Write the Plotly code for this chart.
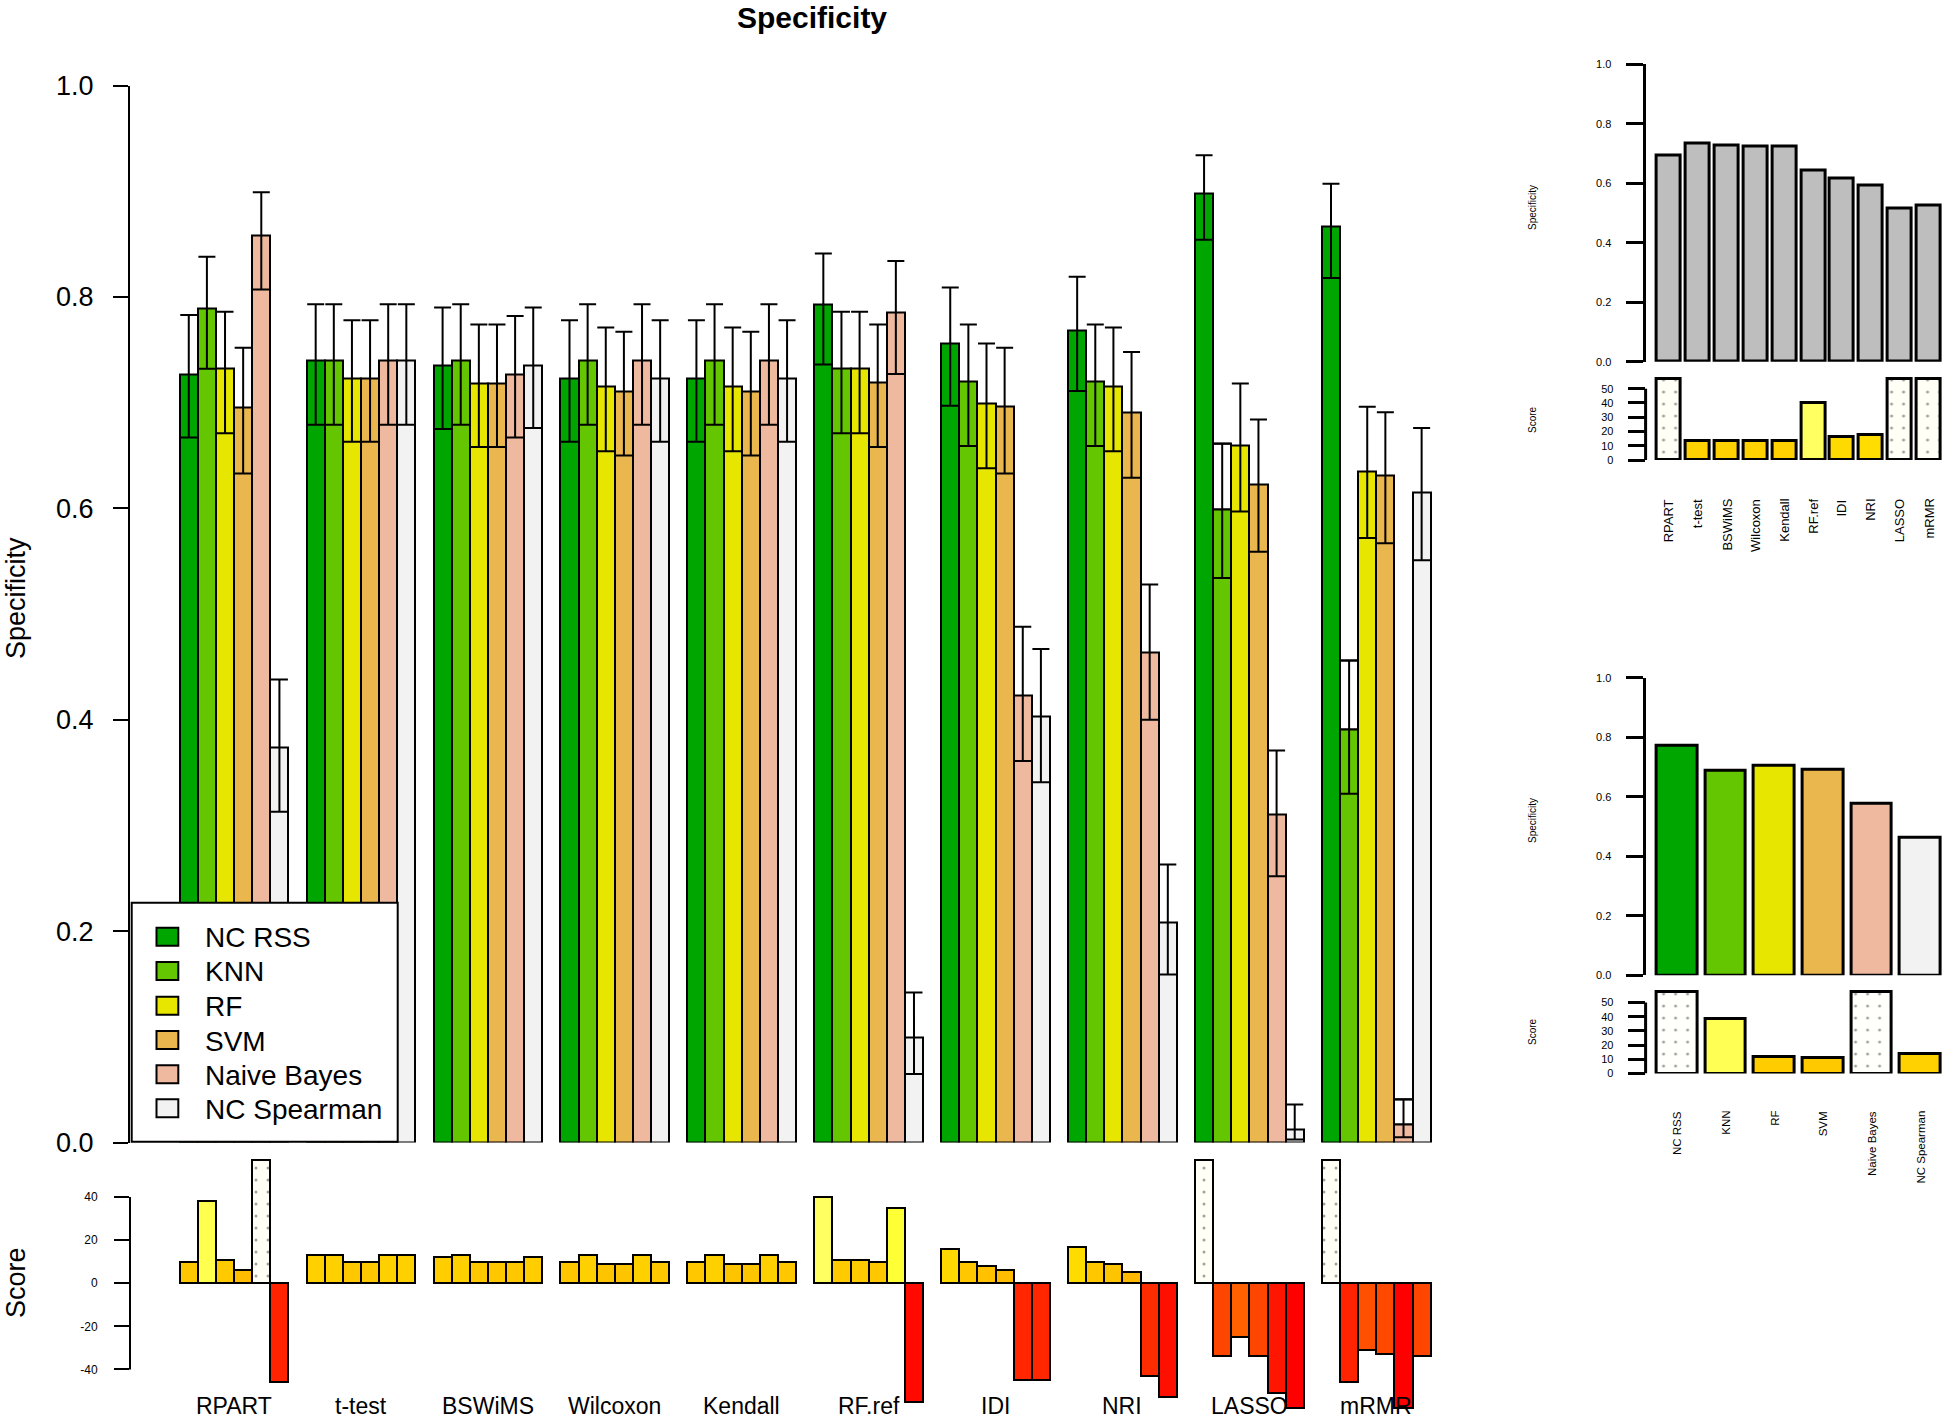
import plotly.graph_objects as go

W, H = 1943, 1420
FONT = "Liberation Sans, Arial, sans-serif"

# ---------------- data ----------------
groups = ["RPART", "t-test", "BSWiMS", "Wilcoxon", "Kendall", "RF.ref", "IDI", "NRI", "LASSO", "mRMR"]
classifiers = ["NC RSS", "KNN", "RF", "SVM", "Naive Bayes", "NC Spearman"]

ncrss_mean = [0.727, 0.740, 0.735, 0.723, 0.723, 0.793, 0.756, 0.768, 0.898, 0.867]
ncrss_low = [0.667, 0.679, 0.675, 0.663, 0.663, 0.736, 0.697, 0.711, 0.854, 0.818]
ncrss_up = [0.783, 0.793, 0.790, 0.778, 0.778, 0.841, 0.809, 0.819, 0.934, 0.907]

knn_mean = [0.789, 0.740, 0.740, 0.740, 0.740, 0.732, 0.720, 0.720, 0.599, 0.391]
knn_low = [0.732, 0.679, 0.679, 0.679, 0.679, 0.671, 0.659, 0.659, 0.534, 0.330]
knn_up = [0.838, 0.793, 0.793, 0.793, 0.793, 0.786, 0.774, 0.774, 0.661, 0.456]

rf_mean = [0.732, 0.723, 0.718, 0.715, 0.715, 0.732, 0.699, 0.715, 0.659, 0.635]
rf_low = [0.671, 0.663, 0.658, 0.654, 0.654, 0.671, 0.638, 0.654, 0.597, 0.572]
rf_up = [0.786, 0.778, 0.774, 0.771, 0.771, 0.786, 0.756, 0.771, 0.718, 0.696]

svm_mean = [0.695, 0.723, 0.718, 0.711, 0.711, 0.719, 0.696, 0.691, 0.623, 0.631]
svm_low = [0.633, 0.663, 0.658, 0.650, 0.650, 0.658, 0.633, 0.629, 0.559, 0.567]
svm_up = [0.752, 0.778, 0.774, 0.767, 0.767, 0.774, 0.752, 0.748, 0.684, 0.691]

nb_mean = [0.858, 0.740, 0.727, 0.740, 0.740, 0.785, 0.423, 0.464, 0.310, 0.017]
nb_low = [0.807, 0.679, 0.667, 0.679, 0.679, 0.727, 0.361, 0.400, 0.252, 0.005]
nb_up = [0.899, 0.793, 0.782, 0.793, 0.793, 0.834, 0.488, 0.528, 0.371, 0.041]

ncs_mean = [0.374, 0.740, 0.735, 0.723, 0.723, 0.099, 0.403, 0.208, 0.012, 0.615]
ncs_low = [0.313, 0.679, 0.676, 0.663, 0.663, 0.065, 0.341, 0.159, 0.003, 0.551]
ncs_up = [0.438, 0.793, 0.790, 0.778, 0.778, 0.142, 0.467, 0.263, 0.036, 0.676]

# bars whose mean-to-upper part is drawn as an open box
hollow_classifier = ["KNN", "KNN", "Naive Bayes"]
hollow_group = ["LASSO", "mRMR", "mRMR"]

score_ncrss = [10, 13, 12, 10, 10, 40, 16, 17, 57, 57]
score_knn = [38, 13, 13, 13, 13, 11, 10, 10, -34, -46]
score_rf = [11, 10, 10, 9, 9, 11, 8, 9, -25, -31]
score_svm = [6, 10, 10, 9, 9, 10, 6, 5, -34, -33]
score_nb = [57, 13, 10, 13, 13, 35, -45, -43, -51, -58]
score_ncs = [-46, 13, 12, 10, 10, -55, -45, -53, -58, -34]

method_spec = [0.694, 0.733, 0.728, 0.723, 0.723, 0.643, 0.615, 0.592, 0.515, 0.525]
method_score = [57, 13.3, 13.3, 13.3, 13.3, 40.2, 16.4, 17.3, 57, 57]

classifier_spec = [0.772, 0.689, 0.703, 0.690, 0.577, 0.463]
classifier_score = [57.6, 38.6, 11.6, 10.6, 57.6, 13.4]

main_yticks = [0.0, 0.2, 0.4, 0.6, 0.8, 1.0]
score_yticks = [-40, -20, 0, 20, 40]
small_yticks = [0.0, 0.2, 0.4, 0.6, 0.8, 1.0]
small_score_ticks = [0, 10, 20, 30, 40, 50]

# ---------------- styles ----------------
colors = ["#00A600", "#63C600", "#E6E600", "#EAB64E", "#EEB99F", "#F2F2F2"]
means = [ncrss_mean, knn_mean, rf_mean, svm_mean, nb_mean, ncs_mean]
lows = [ncrss_low, knn_low, rf_low, svm_low, nb_low, ncs_low]
ups = [ncrss_up, knn_up, rf_up, svm_up, nb_up, ncs_up]
scores = [score_ncrss, score_knn, score_rf, score_svm, score_nb, score_ncs]


def heat(v):
    t = max(0.0, min(1.0, (v + 58) / 116.0))
    if t <= 0.75:
        g = int(round(255 * t / 0.75))
        return "#FF%02X00" % g
    b = int(round(255 * (t - 0.75) / 0.25))
    return "#FFFF%02X" % b


def pat(vals):
    return dict(shape=["." if v > 50 else "" for v in vals], fgcolor="#F8F000",
                fgopacity=0.5, size=12, solidity=0.05)


def px(X):
    return X / W


def py(Y):
    return 1 - Y / H


def lin(p, pa, va, pb, vb):
    return va + (p - pa) * (vb - va) / (pb - pa)


def dom_y(top, bottom):
    return [1 - bottom / H, 1 - top / H]


fig = go.Figure()


def xpos(k):
    return [1 + 7 * g + k + 0.5 for g in range(len(groups))]


# hollow boxes first (under the whiskers)
hx, hbase, hy = [], [], []
for cname, gname in zip(hollow_classifier, hollow_group):
    k = classifiers.index(cname)
    g = groups.index(gname)
    hx.append(1 + 7 * g + k + 0.5)
    hbase.append(means[k][g])
    hy.append(ups[k][g] - means[k][g])
fig.add_trace(go.Bar(x=hx, y=hy, base=hbase, width=1, xaxis="x", yaxis="y",
                     marker=dict(color="white", line=dict(color="black", width=2)),
                     showlegend=False, hoverinfo="skip"))

for k, cname in enumerate(classifiers):
    m, lo, up = means[k], lows[k], ups[k]
    fig.add_trace(go.Bar(
        x=xpos(k), y=m, width=1, name=cname, xaxis="x", yaxis="y",
        marker=dict(color=colors[k], line=dict(color="black", width=2)),
        error_y=dict(type="data", symmetric=False,
                     array=[u - a for u, a in zip(up, m)],
                     arrayminus=[a - l for a, l in zip(m, lo)],
                     color="black", thickness=2, width=8.5),
        showlegend=False))

for k, cname in enumerate(classifiers):
    s = scores[k]
    fig.add_trace(go.Bar(
        x=xpos(k), y=s, width=1, name=cname, xaxis="x2", yaxis="y2",
        marker=dict(color=[heat(v) for v in s], line=dict(color="black", width=2),
                    pattern=pat(s)),
        showlegend=False))

# top-right panels
tr_x = [0.7 + 1.2 * i for i in range(len(groups))]
fig.add_trace(go.Bar(x=tr_x, y=method_spec, width=1, xaxis="x3", yaxis="y3",
                     marker=dict(color="#BEBEBE", line=dict(color="black", width=3)),
                     showlegend=False))
fig.add_trace(go.Bar(x=tr_x, y=method_score, width=1, xaxis="x4", yaxis="y4",
                     marker=dict(color=[heat(v) for v in method_score],
                                 line=dict(color="black", width=3), pattern=pat(method_score)),
                     showlegend=False))

# bottom-right panels
br_x = [0.7 + 1.2 * i for i in range(len(classifiers))]
fig.add_trace(go.Bar(x=br_x, y=classifier_spec, width=1, xaxis="x5", yaxis="y5",
                     marker=dict(color=colors, line=dict(color="black", width=3)),
                     showlegend=False))
fig.add_trace(go.Bar(x=br_x, y=classifier_score, width=1, xaxis="x6", yaxis="y6",
                     marker=dict(color=[heat(v) for v in classifier_score],
                                 line=dict(color="black", width=3), pattern=pat(classifier_score)),
                     showlegend=False))

# ---------------- axes ----------------
main_xr = [lin(130, 179.7, 1, 1430.7, 70), lin(1450, 179.7, 1, 1430.7, 70)]
xcommon = dict(visible=False, showgrid=False, zeroline=False)
ycommon = dict(showgrid=False, zeroline=False, ticks="outside", tickcolor="black",
               linecolor="black", color="black")

tr_xr = [lin(1645.6, 1656.8, 0.2, 1940.6, 12.0), lin(1943, 1656.8, 0.2, 1940.6, 12.0)]
br_xr = [lin(1645.6, 1656.8, 0.2, 1940.3, 7.2), lin(1943, 1656.8, 0.2, 1940.3, 7.2)]

fig.update_layout(
    width=W, height=H, margin=dict(l=0, r=0, t=0, b=0, pad=0, autoexpand=False),
    paper_bgcolor="white", plot_bgcolor="rgba(0,0,0,0)",
    barmode="overlay", bargap=0, showlegend=False,
    font=dict(family=FONT, color="black"),
    xaxis=dict(domain=[px(130), px(1450)], range=main_xr, anchor="y", **xcommon),
    yaxis=dict(domain=dom_y(85.5, 1142.6), range=[0, 1], anchor="x",
               tickvals=main_yticks, ticktext=["%.1f" % v for v in main_yticks],
               showline=True, linewidth=2, ticklen=15, tickwidth=2,
               tickfont=dict(size=27, family=FONT), ticklabelstandoff=14, **ycommon),
    xaxis2=dict(domain=[px(130), px(1450)], range=main_xr, anchor="y2", **xcommon),
    yaxis2=dict(domain=dom_y(1150, 1417),
                range=[lin(1417, 1283.2, 0, 1197, 40), lin(1150, 1283.2, 0, 1197, 40)],
                anchor="x2", tickvals=score_yticks, ticktext=[str(v) for v in score_yticks],
                showline=False, ticklen=15, tickwidth=2,
                tickfont=dict(size=12, family=FONT), ticklabelstandoff=14, **ycommon),
    xaxis3=dict(domain=[px(1645.6), 1.0], range=tr_xr, anchor="y3", **xcommon),
    yaxis3=dict(domain=dom_y(64.4, 361.7), range=[0, 1], anchor="x3",
                tickvals=small_yticks, ticktext=["%.1f" % v for v in small_yticks],
                showline=True, linewidth=3, ticklen=17, tickwidth=3,
                tickfont=dict(size=11, family=FONT), ticklabelstandoff=12, **ycommon),
    xaxis4=dict(domain=[px(1645.6), 1.0], range=tr_xr, anchor="y4", **xcommon),
    yaxis4=dict(domain=dom_y(374, 460), range=[0, lin(374, 460, 0, 388.7, 50)], anchor="x4",
                tickvals=small_score_ticks, ticktext=[str(v) for v in small_score_ticks],
                showline=False, ticklen=17, tickwidth=3,
                tickfont=dict(size=11, family=FONT), ticklabelstandoff=12, **ycommon),
    xaxis5=dict(domain=[px(1645.6), 1.0], range=br_xr, anchor="y5", **xcommon),
    yaxis5=dict(domain=dom_y(677.8, 975.3), range=[0, 1], anchor="x5",
                tickvals=small_yticks, ticktext=["%.1f" % v for v in small_yticks],
                showline=True, linewidth=3, ticklen=17, tickwidth=3,
                tickfont=dict(size=11, family=FONT), ticklabelstandoff=12, **ycommon),
    xaxis6=dict(domain=[px(1645.6), 1.0], range=br_xr, anchor="y6", **xcommon),
    yaxis6=dict(domain=dom_y(988, 1073.5), range=[0, lin(988, 1073.5, 0, 1002.5, 50)], anchor="x6",
                tickvals=small_score_ticks, ticktext=[str(v) for v in small_score_ticks],
                showline=False, ticklen=17, tickwidth=3,
                tickfont=dict(size=11, family=FONT), ticklabelstandoff=12, **ycommon),
)

shapes = []
shapes.append(dict(type="line", xref="paper", yref="y2", x0=px(130), x1=px(130),
                   y0=min(score_yticks), y1=max(score_yticks), line=dict(color="black", width=2)))
shapes.append(dict(type="line", xref="paper", yref="y4", x0=px(1645.6), x1=px(1645.6),
                   y0=0, y1=max(small_score_ticks), line=dict(color="black", width=3)))
shapes.append(dict(type="line", xref="paper", yref="y6", x0=px(1645.6), x1=px(1645.6),
                   y0=0, y1=max(small_score_ticks), line=dict(color="black", width=3)))

# legend box
shapes.append(dict(type="rect", xref="paper", yref="paper", layer="above",
                   x0=px(131.7), x1=px(397.7), y0=py(1141.7), y1=py(902.7),
                   fillcolor="white", line=dict(color="black", width=2)))
leg_y = [936.7, 970.9, 1005.7, 1040.0, 1074.2, 1108.2]
annotations = []
for k, cname in enumerate(classifiers):
    shapes.append(dict(type="rect", xref="paper", yref="paper", layer="above",
                       x0=px(156.5), x1=px(178.3), y0=py(leg_y[k] + 9), y1=py(leg_y[k] - 9),
                       fillcolor=colors[k], line=dict(color="black", width=2)))
    annotations.append(dict(text=cname, xref="paper", yref="paper", x=px(203), y=py(leg_y[k] + 1),
                            xanchor="left", yanchor="middle", showarrow=False,
                            font=dict(size=28, family=FONT, color="black")))

annotations.append(dict(text="<b>Specificity</b>", xref="paper", yref="paper", x=px(812), y=1.0,
                        xanchor="center", yanchor="top", showarrow=False, borderpad=0,
                        font=dict(size=30, family=FONT, color="black")))
annotations.append(dict(text="Specificity", xref="paper", yref="paper", x=0.0, y=py(598),
                        textangle=-90, xanchor="left", yanchor="middle", showarrow=False,
                        borderpad=0, font=dict(size=27, family=FONT, color="black")))
annotations.append(dict(text="Score", xref="paper", yref="paper", x=0.0, y=py(1283),
                        textangle=-90, xanchor="left", yanchor="middle", showarrow=False,
                        borderpad=0, font=dict(size=27, family=FONT, color="black")))
for g, gname in enumerate(groups):
    annotations.append(dict(text=gname, xref="x", yref="paper", x=4 + 7 * g, y=0.0,
                            xanchor="center", yanchor="bottom", showarrow=False, borderpad=0,
                            font=dict(size=23, family=FONT, color="black")))

for Yc, txt in [(208, "Specificity"), (420, "Score"), (821, "Specificity"), (1032, "Score")]:
    annotations.append(dict(text=txt, xref="paper", yref="paper", x=px(1532), y=py(Yc),
                            textangle=-90, xanchor="center", yanchor="middle", showarrow=False,
                            font=dict(size=10, family=FONT, color="black")))
for i, gname in enumerate(groups):
    annotations.append(dict(text=gname, xref="x3", yref="paper", x=tr_x[i], y=py(497),
                            textangle=-90, xanchor="center", yanchor="top", showarrow=False,
                            font=dict(size=13, family=FONT, color="black")))
for i, cname in enumerate(classifiers):
    annotations.append(dict(text=cname, xref="x5", yref="paper", x=br_x[i], y=py(1109),
                            textangle=-90, xanchor="center", yanchor="top", showarrow=False,
                            font=dict(size=11.5, family=FONT, color="black")))

fig.update_layout(shapes=shapes, annotations=annotations)
fig.write_html("out.html", config={"displayModeBar": False},
               post_script="document.body.style.margin='0px';document.body.style.overflow='hidden';")
